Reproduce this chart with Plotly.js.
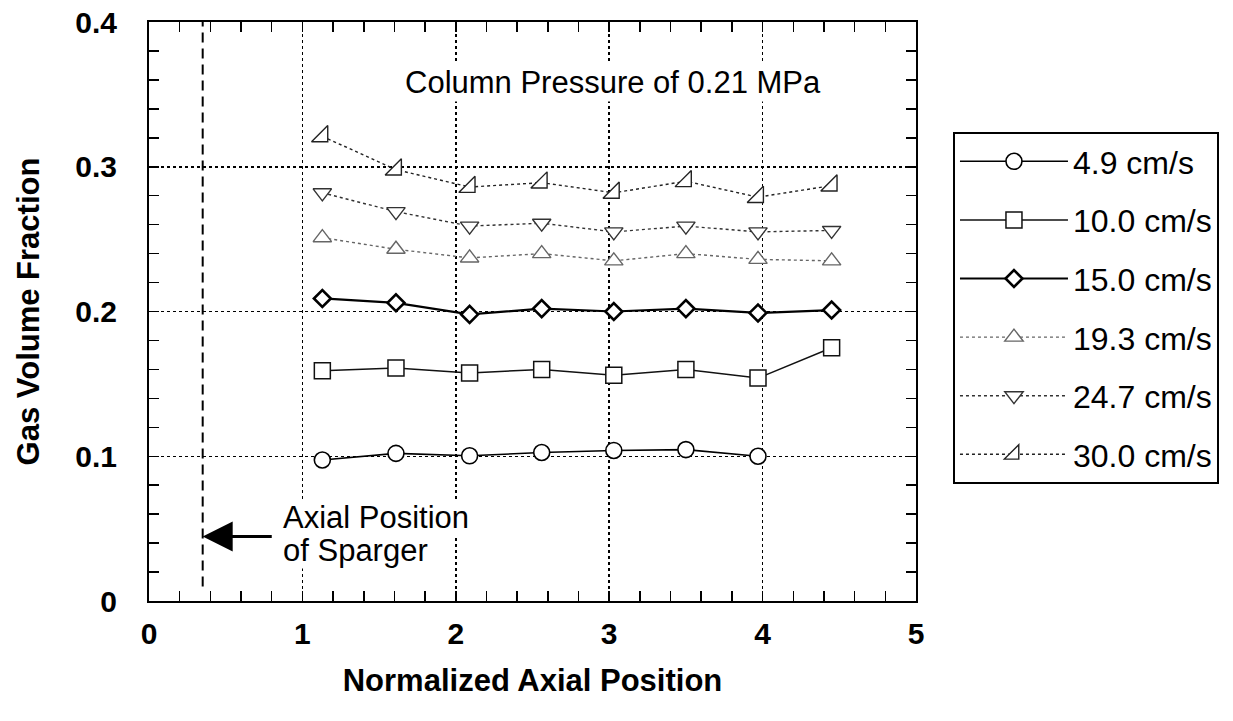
<!DOCTYPE html>
<html>
<head>
<meta charset="utf-8">
<script src="https://cdn.plot.ly/plotly-3.0.1.min.js"></script>
<style>
  html, body { margin: 0; padding: 0; background: #ffffff; }
  #chart { width: 1233px; height: 721px; }
</style>
</head>
<body>
<div id="chart"></div>
<script>
// ---- Data ----
const axialPosition = [1.13, 1.61, 2.09, 2.56, 3.03, 3.50, 3.97, 4.45];
const seriesNames = ["4.9 cm/s", "10.0 cm/s", "15.0 cm/s", "19.3 cm/s", "24.7 cm/s", "30.0 cm/s"];
const gas_4_9  = [0.0974, 0.102, 0.1003, 0.1026, 0.104, 0.1046, 0.100];
const gas_10_0 = [0.159, 0.161, 0.1575, 0.160, 0.156, 0.160, 0.154, 0.175];
const gas_15_0 = [0.209, 0.206, 0.198, 0.202, 0.200, 0.202, 0.199, 0.201];
const gas_19_3 = [0.251, 0.243, 0.237, 0.240, 0.235, 0.240, 0.236, 0.235];
const gas_24_7 = [0.282, 0.269, 0.259, 0.261, 0.255, 0.259, 0.255, 0.256];
const gas_30_0 = [0.321, 0.298, 0.286, 0.289, 0.282, 0.290, 0.279, 0.287];
const xTickVals = [0, 1, 2, 3, 4, 5];
const yTickVals = [0, 0.1, 0.2, 0.3, 0.4];
const yTickText = ["0", "0.1", "0.2", "0.3", "0.4"];
const spargerPosition = 0.35;   // axial position of sparger (dashed line)
const arrowLevel = 0.0446;      // height of the sparger arrow
const arrowTail = 0.81;

// ---- Styles ----
const FONT = "'Liberation Sans', Arial, Helvetica, sans-serif";
const allValues = [gas_4_9, gas_10_0, gas_15_0, gas_19_3, gas_24_7, gas_30_0];
const styles = [
  {symbol: "circle",        size: 16, mlw: 1.6, color: "#000", lw: 1.6, dash: "solid"},
  {symbol: "square",        size: 16, mlw: 1.5, color: "#111", lw: 1.5, dash: "solid"},
  {symbol: "diamond",       size: 13, mlw: 2.6, color: "#000", lw: 2.2, dash: "solid"},
  {symbol: "triangle-up",   size: 16, mlw: 1.4, color: "#666", lw: 1.4, dash: "dot"},
  {symbol: "triangle-down", size: 16, mlw: 1.4, color: "#333", lw: 1.4, dash: "dot"},
  {symbol: "triangle-se",   size: 18, mlw: 1.4, color: "#222", lw: 1.4, dash: "dot"}
];

const traces = allValues.map((vals, i) => ({
  type: "scatter",
  mode: "lines+markers",
  name: seriesNames[i],
  legendgroup: "g" + i,
  x: axialPosition.slice(0, vals.length),
  y: vals,
  line: {color: styles[i].color, width: styles[i].lw, dash: styles[i].dash},
  marker: {
    symbol: styles[i].symbol,
    size: styles[i].size,
    color: "#ffffff",
    line: {color: styles[i].color, width: styles[i].mlw}
  },
  cliponaxis: false
}));

const layout = {
  width: 1233,
  height: 721,
  margin: {l: 149, r: 317, t: 22, b: 120},
  paper_bgcolor: "#ffffff",
  plot_bgcolor: "#ffffff",
  font: {family: FONT, color: "#000"},
  showlegend: true,
  legend: {
    x: 1.0482, xanchor: "left",
    y: 0.81, yanchor: "top",
    bordercolor: "#000", borderwidth: 2,
    bgcolor: "#ffffff",
    font: {family: FONT, size: 32, color: "#000"},
    itemwidth: 108,
    traceorder: "grouped",
    tracegroupgap: 14
  },
  xaxis: {
    range: [0, 5],
    tickvals: xTickVals,
    ticks: "inside", ticklen: 10, tickwidth: 1.5, tickcolor: "#000",
    minor: {dtick: 0.2, tick0: 0, ticks: "inside", ticklen: 10, tickwidth: 1.5, tickcolor: "#000", showgrid: false},
    showline: true, linecolor: "#000", linewidth: 2, mirror: "ticks",
    showgrid: true, gridcolor: "#000", gridwidth: 1.5, griddash: "dot",
    zeroline: false,
    tickfont: {family: FONT, size: 30, weight: "bold"},
    ticklabelstandoff: 5,
    title: {text: "Normalized Axial Position", font: {family: FONT, size: 31, weight: "bold"}, standoff: 20}
  },
  yaxis: {
    range: [0, 0.4],
    tickvals: yTickVals, ticktext: yTickText,
    ticks: "inside", ticklen: 10, tickwidth: 1.5, tickcolor: "#000",
    minor: {dtick: 0.02, tick0: 0, ticks: "inside", ticklen: 10, tickwidth: 1.5, tickcolor: "#000", showgrid: false},
    showline: true, linecolor: "#000", linewidth: 2, mirror: "ticks",
    showgrid: true, gridcolor: "#000", gridwidth: 1.5, griddash: "dot",
    zeroline: false,
    tickfont: {family: FONT, size: 30, weight: "bold"},
    ticklabelstandoff: 24,
    title: {text: "Gas Volume Fraction", font: {family: FONT, size: 31, weight: "bold"}, standoff: 26}
  },
  shapes: [
    {type: "line", xref: "x", yref: "y", x0: spargerPosition, x1: spargerPosition, y0: 0.01, y1: 0.4,
     line: {color: "#000", width: 2, dash: "10px,6px"}}
  ],
  annotations: [
    {xref: "x", yref: "y", x: 1.655, y: 0.358, xanchor: "left", yanchor: "middle",
     text: "Column Pressure of 0.21 MPa", showarrow: false, bgcolor: "#ffffff",
     font: {family: FONT, size: 31, color: "#000"}},
    {xref: "x", yref: "y", x: 0.865, y: 0.058, xanchor: "left", yanchor: "middle",
     text: "Axial Position", showarrow: false, bgcolor: "#ffffff", borderpad: 0,
     font: {family: FONT, size: 31, color: "#000"}},
    {xref: "x", yref: "y", x: 0.865, y: 0.035, xanchor: "left", yanchor: "middle",
     text: "of Sparger", showarrow: false, bgcolor: "#ffffff", borderpad: 0,
     font: {family: FONT, size: 31, color: "#000"}},
    {xref: "x", yref: "y", axref: "x", ayref: "y",
     x: spargerPosition, y: arrowLevel, ax: arrowTail, ay: arrowLevel,
     text: "", showarrow: true, arrowhead: 2, arrowsize: 2, arrowwidth: 3, arrowcolor: "#000", standoff: 0}
  ]
};

Plotly.newPlot("chart", traces, layout, {displayModeBar: false, staticPlot: true});
</script>
</body>
</html>
